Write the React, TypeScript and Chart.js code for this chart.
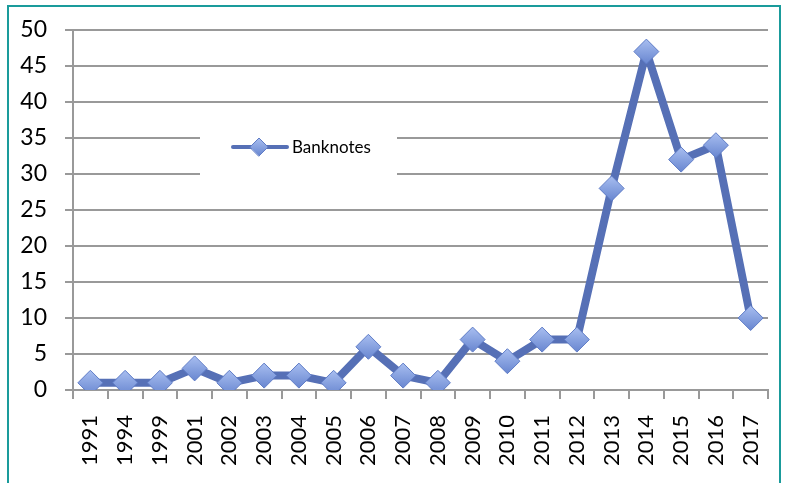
import React, { useEffect, useRef } from "react";
import { Chart, registerables } from "chart.js";

Chart.register(...registerables);

const years = ["1991","1994","1999","2001","2002","2003","2004","2005","2006","2007","2008","2009","2010","2011","2012","2013","2014","2015","2016","2017"];
const banknotes = [1,1,1,3,1,2,2,1,6,2,1,7,4,7,7,28,47,32,34,10];
const seriesLabel = "Banknotes";

const LINE = "#5670b6";
const FILL_TOP = "#a8bef0";
const FILL_BOTTOM = "#6886d0";
const EDGE = "#5f7cc6";
const GRID = "#999999";
const FONT = "Lato, 'Open Sans', sans-serif";
const R = 12.5;

const legendPlugin = {
  id: "insideLegend",
  afterDatasetsDraw(chart: any) {
    const ctx = chart.ctx;
    ctx.save();
    ctx.fillStyle = "#ffffff";
    ctx.fillRect(200, 124, 197, 62);
    const y = 147;
    ctx.strokeStyle = LINE;
    ctx.lineWidth = 4;
    ctx.lineCap = "round";
    ctx.beginPath();
    ctx.moveTo(233, y);
    ctx.lineTo(287, y);
    ctx.stroke();
    ctx.beginPath();
    const r = 9;
    ctx.moveTo(259 - r, y);
    ctx.lineTo(259, y - r);
    ctx.lineTo(259 + r, y);
    ctx.lineTo(259, y + r);
    ctx.closePath();
    const g = ctx.createLinearGradient(0, y - r, 0, y + r);
    g.addColorStop(0, FILL_TOP);
    g.addColorStop(1, FILL_BOTTOM);
    ctx.fillStyle = g;
    ctx.fill();
    ctx.lineWidth = 1;
    ctx.strokeStyle = EDGE;
    ctx.stroke();
    ctx.fillStyle = "#000000";
    ctx.font = "17px " + FONT;
    ctx.textBaseline = "middle";
    ctx.textAlign = "left";
    ctx.fillText(chart.data.datasets[0].label, 292, y + 1);
    ctx.restore();
  },
};

function pointFill(context: any) {
  const chart = context.chart;
  const yScale = chart.scales && chart.scales.y;
  if (!yScale || context.raw === undefined) return FILL_BOTTOM;
  const py = yScale.getPixelForValue(context.raw);
  if (!isFinite(py)) return FILL_BOTTOM;
  const g = chart.ctx.createLinearGradient(0, py - R, 0, py + R);
  g.addColorStop(0, FILL_TOP);
  g.addColorStop(1, FILL_BOTTOM);
  return g;
}

export default function App() {
  const ref = useRef<HTMLCanvasElement>(null);
  useEffect(() => {
    if (!ref.current) return;
    const chart = new Chart(ref.current, {
      type: "line",
      data: {
        labels: years,
        datasets: [
          {
            label: seriesLabel,
            data: banknotes,
            borderColor: LINE,
            borderWidth: 8,
            borderJoinStyle: "round",
            backgroundColor: FILL_BOTTOM,
            pointStyle: "rectRot",
            pointRadius: R,
            pointBackgroundColor: pointFill,
            pointBorderColor: EDGE,
            pointBorderWidth: 1,
            tension: 0,
          },
        ],
      },
      plugins: [legendPlugin],
      options: {
        animation: false,
        responsive: false,
        maintainAspectRatio: false,
        layout: { padding: { top: 30, right: 23, left: 0, bottom: 0 } },
        plugins: { legend: { display: false }, tooltip: { enabled: false } },
        scales: {
          x: {
            offset: true,
            grid: {
              offset: true,
              drawOnChartArea: false,
              drawTicks: true,
              tickLength: 9,
              color: GRID,
              lineWidth: 2,
            },
            border: { display: true, color: GRID, width: 2 },
            ticks: {
              minRotation: 90,
              maxRotation: 90,
              autoSkip: false,
              color: "#000000",
              padding: 16,
              font: { family: FONT, size: 22 },
            },
            afterFit(scale: any) {
              scale.height = 93;
              scale.paddingLeft = 0;
              scale.paddingRight = 0;
            },
          },
          y: {
            min: 0,
            max: 50,
            ticks: {
              stepSize: 5,
              color: "#000000",
              padding: 18,
              font: { family: FONT, size: 23 },
            },
            grid: { color: GRID, lineWidth: 2, tickLength: 8 },
            border: { display: true, color: GRID, width: 2 },
            afterFit(scale: any) {
              scale.width = 73;
              scale.paddingTop = 0;
              scale.paddingBottom = 0;
            },
          },
        },
      },
    });
    return () => chart.destroy();
  }, []);
  return (
    <div style={{ position: "absolute", left: 0, top: 0, width: 791, height: 483, background: "#fff", overflow: "hidden" }}>
      <canvas ref={ref} width={791} height={483} style={{ position: "absolute", left: 0, top: 0 }} />
      <div
        style={{
          position: "absolute",
          left: 7,
          top: 5,
          width: 774,
          height: 500,
          border: "2px solid #1a9b9b",
          boxSizing: "border-box",
          pointerEvents: "none",
        }}
      />
    </div>
  );
}
